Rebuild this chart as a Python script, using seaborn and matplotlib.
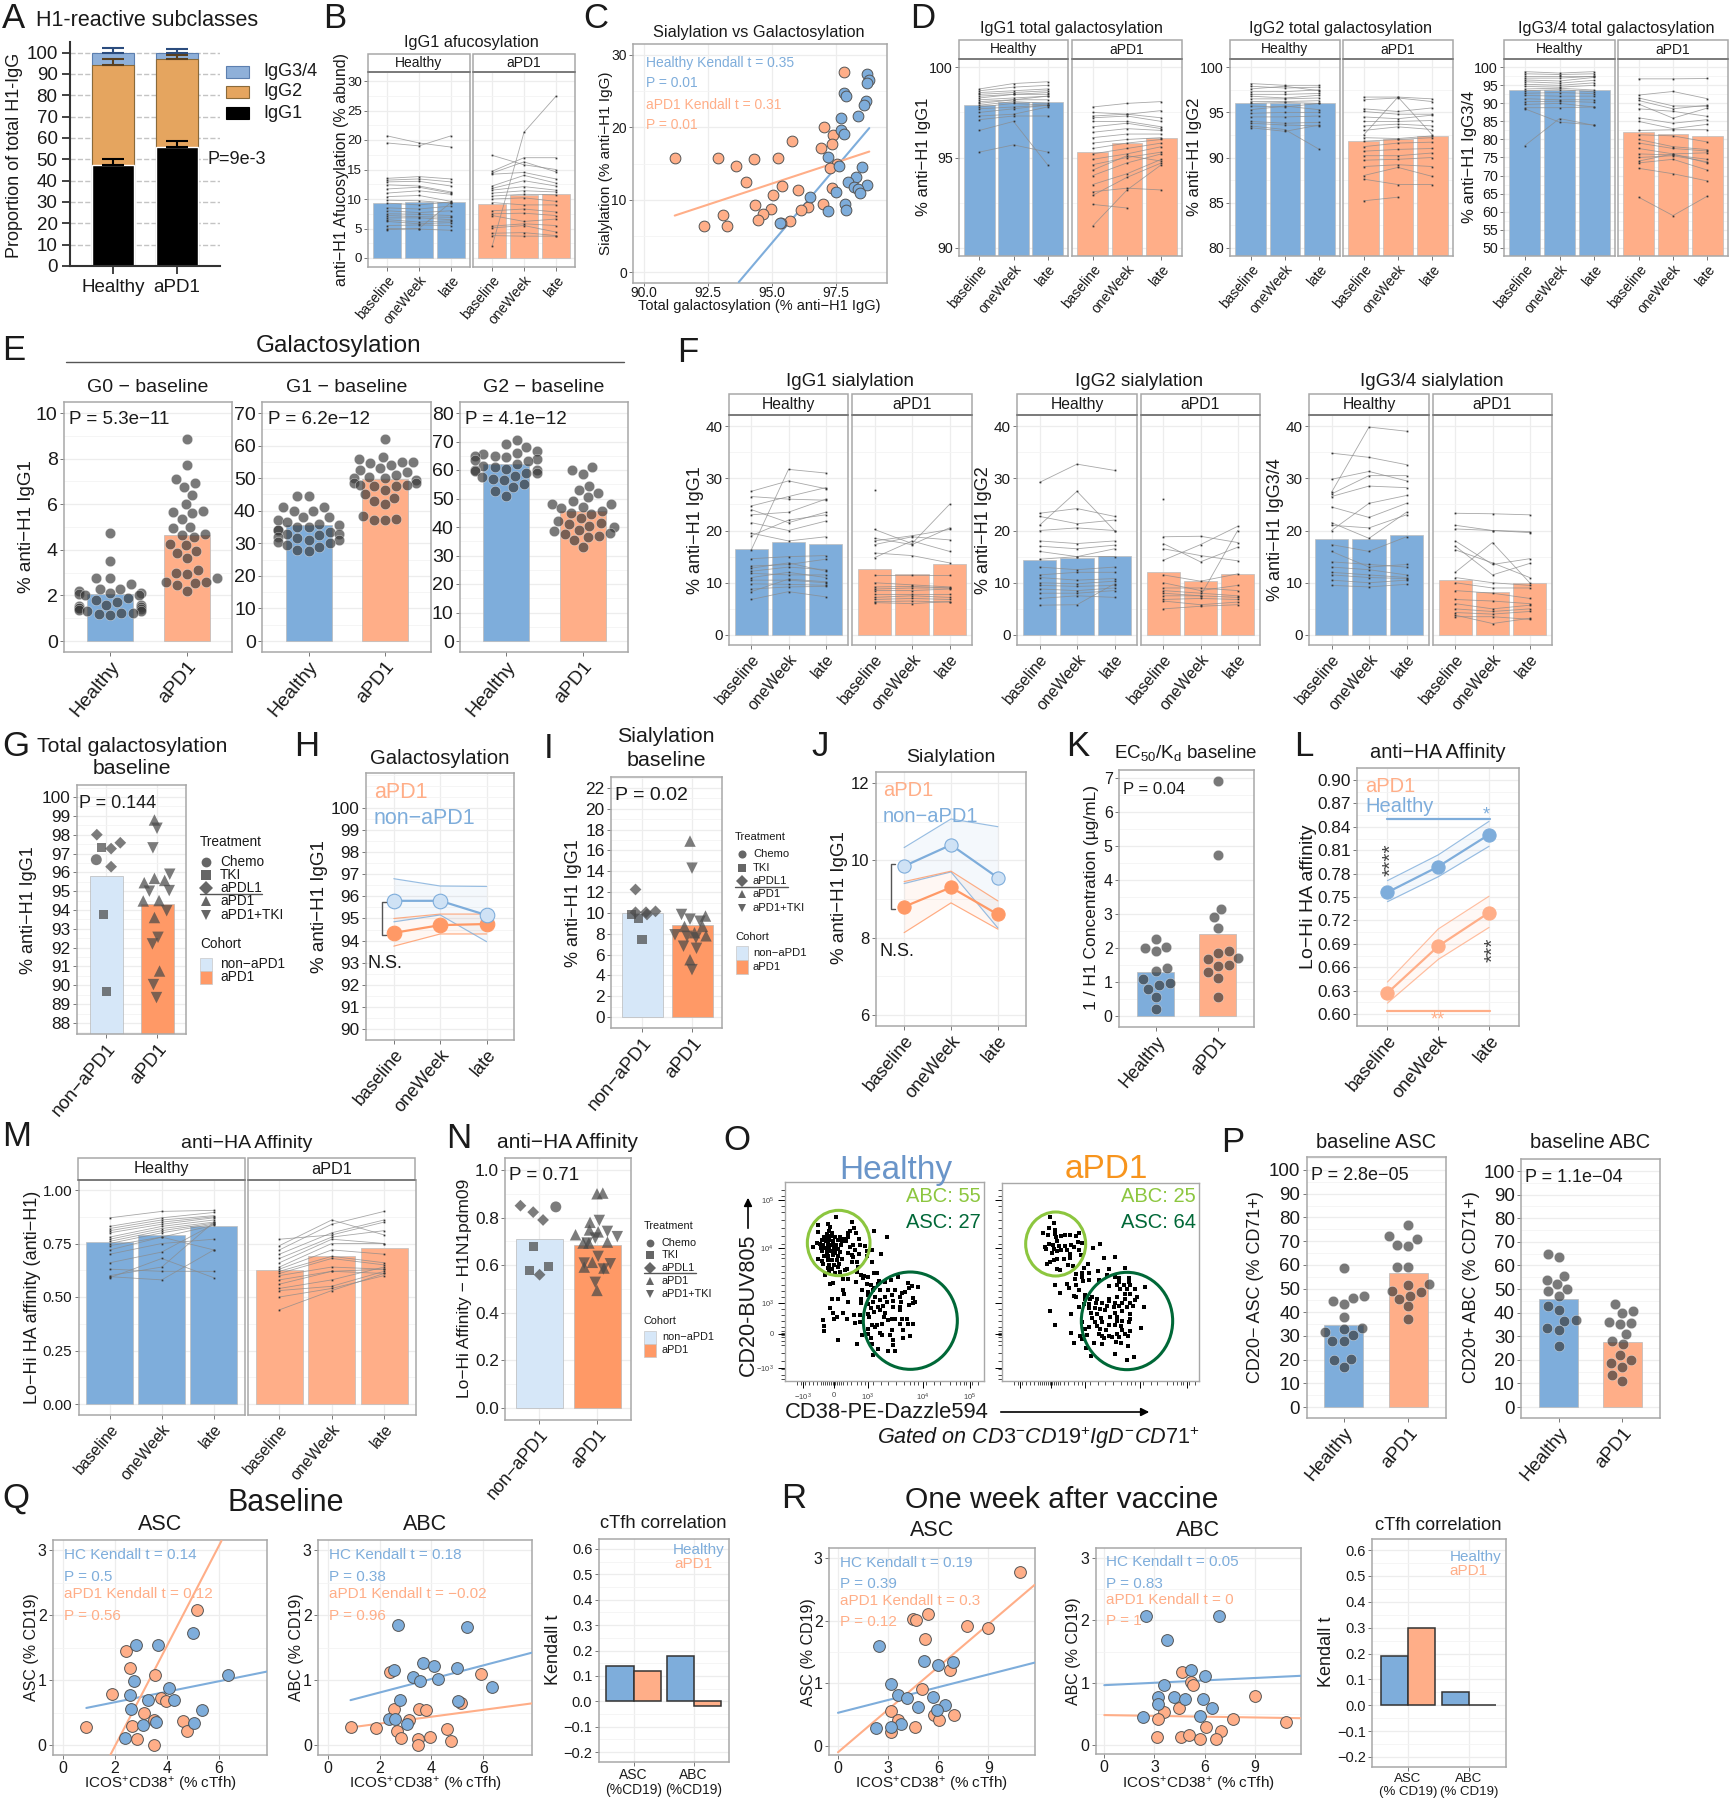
import warnings
import numpy as np
import matplotlib
matplotlib.use("Agg")
import matplotlib.pyplot as plt
from matplotlib.patches import Ellipse, Rectangle
from matplotlib.ticker import AutoMinorLocator
from matplotlib.lines import Line2D
import seaborn as sns

warnings.filterwarnings("ignore")
sns.set_theme(style="whitegrid")
plt.rcParams['font.family'] = ['Liberation Sans', 'DejaVu Sans']
plt.rcParams['mathtext.fontset'] = 'custom'
plt.rcParams['mathtext.rm'] = 'Liberation Sans'
plt.rcParams['mathtext.it'] = 'Liberation Sans:italic'
plt.rcParams['mathtext.default'] = 'regular'

n = np.nan
BLUE, ORANGE = '#7EADDB', '#FFAE88'
PALE, DEEP = '#D6E7F8', '#FF9966'
TIMES = ['baseline', 'oneWeek', 'late']
HA = ['Healthy', 'aPD1']
NA = ['non\u2212aPD1', 'aPD1']

# ---------- A
A_cats = HA
A_igg1 = [47.5, 56.0]
A_igg2 = [46.5, 41.0]
A_igg34 = [6.0, 3.0]
A_err1 = [2.5, 2.5]
A_err2 = [3.0, 2.0]
A_err34 = [2.0, 1.5]
# ---------- B
B_hc = [[20.7,19.5,18.8],[19.5,19.0,20.7],[13.5,13.8,13.4],[13.2,13.4,12.9],[12.9,13.0,12.2],[12.4,12.2,11.2],
        [11.7,12.0,11.0],[11.0,11.4,10.8],[10.4,10.6,9.6],[9.8,9.7,9.3],[9.3,9.0,9.5],[8.5,8.3,8.8],[8.0,7.7,8.0],
        [7.5,7.4,7.2],[7.2,7.0,6.9],[6.8,6.8,6.5],[6.5,6.1,6.3],[6.2,5.8,6.0],[5.5,5.6,5.5],[5.0,4.9,4.7],[4.8,5.0,9.4]]
B_pd = [[17.4,15.8,15.0],[14.7,17.0,17.0],[14.4,16.3,14.6],[14.2,14.5,13.4],[12.2,14.0,12.7],[11.8,13.1,12.2],
        [11.5,12.1,11.5],[11.0,11.4,11.2],[10.5,10.8,10.7],[10.0,10.2,9.6],[9.4,9.0,9.0],[8.0,8.3,7.8],[7.5,7.6,7.2],
        [7.2,6.2,6.6],[5.4,5.8,5.5],[5.1,5.5,4.4],[4.2,4.3,3.8],[3.8,3.7,3.7],[2.0,21.3,27.4]]
B_bar_hc, B_bar_pd = [9.4,9.5,9.5], [9.1,10.7,10.8]
# ---------- C
C_hc_x = [98.7,98.8,98.7,97.8,97.9,98.66,98.6,98.35,97.7,97.7,97.8,97.2,97.6,98.5,98.3,97.95,98.2,98.7,98.35,98.45,97.5,96.5,97.85,97.9,97.2,95.3]
C_hc_y = [27.4,26.5,26.1,24.7,24.3,23.7,23.1,21.6,21.3,19.6,19.05,15.9,14.7,14.5,13.1,12.5,11.8,12.05,11.45,10.9,11.05,10.35,9.4,8.6,8.4,6.75]
C_pd_x = [97.8,97.05,97.4,95.8,97.35,96.9,91.2,92.9,94.3,95.25,93.6,97.55,97.25,94.0,95.4,97.35,96.0,95.05,94.35,97.0,96.4,96.15,94.97,94.65,93.07,94.45,95.7,95.35,92.33,93.25]
C_pd_y = [27.65,20.1,18.95,18.1,17.7,17.1,15.75,15.75,15.6,15.7,14.6,14.95,14.35,12.4,11.9,11.65,11.3,10.7,9.3,9.4,9.0,8.6,8.7,8.05,7.9,7.2,7.1,6.75,6.3,6.3]
C_fit_hc_x, C_fit_hc_y = [93.7,98.8], [-1.4,19.9]
C_fit_pd_x, C_fit_pd_y = [91.2,98.8], [7.8,16.65]
# ---------- D
D1_hc = [[98.8,99.1,99.2],[98.7,98.9,99.0],[98.6,98.7,98.8],[98.5,98.6,98.7],[98.4,98.5,98.6],[98.3,98.5,98.5],[98.2,98.3,98.4],
         [98.1,98.2,98.4],[98.0,98.2,98.2],[97.9,98.1,98.0],[97.8,98.0,97.9],[97.7,97.8,97.9],[97.5,97.7,97.9],[97.3,97.4,97.8],
         [97.1,97.3,97.3],[96.5,97.0,94.6],[95.3,95.7,95.3]]
D1_pd = [[97.8,98.0,98.1],[97.5,97.4,97.6],[97.3,97.4,97.2],[97.2,97.3,97.0],[97.0,97.0,96.7],[96.7,96.9,96.6],[96.4,96.6,96.5],
         [96.1,96.3,96.3],[95.8,96.0,96.1],[95.5,95.8,96.0],[95.2,95.5,95.8],[94.9,95.2,95.6],[94.6,95.0,95.3],[94.3,95.1,94.8],
         [94.0,94.7,95.2],[93.5,94.1,94.9],[93.1,93.3,93.2],[92.9,93.9,94.7],[92.4,92.2,n],[91.2,93.2,94.6]]
D1_bar_hc, D1_bar_pd = [97.9,98.05,98.05], [95.3,95.8,96.1]
D2_hc = [[98.2,98.0,98.0],[97.9,97.7,97.8],[97.6,97.9,97.4],[97.3,97.3,97.5],[97.0,97.0,97.1],[96.8,96.6,96.9],[96.5,96.5,96.6],
         [96.2,96.2,96.3],[96.0,96.1,96.0],[95.7,95.6,96.0],[95.3,95.7,95.3],[94.9,95.0,95.0],[94.5,94.5,94.6],[94.0,93.8,93.9],
         [93.8,93.6,93.5],[93.5,93.1,90.9],[93.3,92.9,93.6]]
D2_pd = [[96.7,96.7,96.5],[96.4,96.6,96.2],[95.4,95.1,95.5],[95.1,94.8,94.8],[94.5,94.3,94.7],[94.0,94.0,94.1],[93.5,93.7,93.5],
         [93.0,93.4,93.1],[92.5,96.7,92.5],[92.2,92.1,92.4],[91.8,92.0,92.2],[91.2,91.6,91.7],[90.7,90.9,91.0],[90.2,90.2,90.5],
         [89.7,89.8,90.0],[89.0,89.2,89.0],[88.0,88.9,87.9],[87.6,87.0,87.0],[85.2,85.6,n]]
D2_bar_hc, D2_bar_pd = [96.0,96.0,96.0], [91.8,92.0,92.4]
D3_hc = [[98.8,98.4,98.8],[98.2,98.0,98.2],[97.6,97.6,97.6],[97.0,97.0,97.5],[96.5,96.2,97.2],[96.0,95.6,96.4],[95.3,95.0,95.7],
         [94.7,94.5,95.0],[94.0,94.2,93.7],[93.5,93.8,93.2],[92.8,93.0,92.7],[92.2,92.0,92.0],[91.3,91.0,91.0],[90.5,90.6,90.3],
         [89.7,90.0,89.0],[88.8,88.8,89.0],[88.5,84.8,84.0],[78.3,85.8,83.9]]
D3_pd = [[96.8,96.8,96.9],[92.3,93.3,91.3],[91.5,89.3,89.2],[90.8,88.5,89.5],[89.8,85.9,88.7],[88.5,87.8,86.4],[86.0,84.5,85.5],
         [85.0,83.0,84.2],[82.5,82.7,82.7],[81.3,81.0,79.3],[80.0,78.0,77.2],[79.0,77.5,76.8],[77.5,76.0,76.3],[76.0,75.7,74.5],
         [75.0,75.5,73.8],[74.0,76.0,73.5],[73.5,74.5,71.5],[72.0,70.5,68.5],[64.0,58.9,64.3]]
D3_bar_hc, D3_bar_pd = [93.6,93.7,93.7], [82.2,81.4,81.0]
# ---------- E
E1_hc = [4.75,3.5,2.75,2.75,2.5,2.3,2.3,2.2,2.1,2.1,2.05,2.0,2.0,1.9,1.8,1.7,1.6,1.6,1.55,1.5,1.45,1.45,1.4,1.35,1.3,1.3,1.25,1.25,1.2,1.15]
E1_pd = [8.85,7.7,7.1,6.95,6.75,6.4,6.0,5.65,5.6,5.7,5.35,5.0,4.95,4.7,4.65,4.55,4.25,4.2,3.95,3.85,3.65,3.1,3.0,2.95,2.75,2.6,2.6,2.55,2.45,2.2]
E2_hc = [44.5,44.5,41,41,40,40,38,38,37,36.5,36,35.5,35,35,34,34,33.5,33,33,32.5,32,31.5,31,31,30.5,30,29.5,29,28,27.5]
E2_pd = [62,56.5,56,55,55,54.5,54,53,52.5,52,51,50.5,50,50,49.5,48.5,48.5,48,48,47.5,47.5,46.5,45,44,43,42,38.5,37.5,37,37]
E3_hc = [70.5,69,68,66.5,66,65.5,65,65,64.5,64,63.5,63,62,61.5,61,60.5,60,60,59.5,59,59,58,57.5,57,56.5,55,54,52.5,51]
E3_pd = [61,60,58.5,54.5,53,52,50.5,49,48,48,47,46.5,45.5,45,44.5,43,42,41.5,41,40.5,40,39,38.5,38,37.5,37,36.5,35.5,33]
E1_bar, E2_bar, E3_bar = [2.05,4.65], [35.7,49.7], [62.0,45.5]
# ---------- F
F1_hc = [[27.5,29.5,28.0],[26.5,26.0,25.8],[24.7,26.5,28.2],[24.0,21.5,23.5],[23.0,23.5,26.0],[21.5,20.0,21.8],[19.5,18.0,18.8],
         [19.0,22.0,23.0],[16.3,31.7,31.0],[14.6,15.0,15.2],[13.2,13.5,14.5],[12.8,13.8,12.2],[12.2,13.0,12.5],[11.8,11.5,11.5],
         [11.0,12.0,11.0],[10.5,10.5,10.0],[9.8,9.7,9.5],[8.8,9.2,9.3],[8.3,10.7,10.2],[6.8,8.3,7.3]]
F1_pd = [[27.8,n,n],[20.2,17.5,25.0],[18.5,17.3,20.5],[18.0,19.0,20.2],[17.3,18.8,18.2],[15.7,15.2,13.8],[14.8,18.0,16.0],[11.5,11.5,11.5],
         [10.0,9.6,9.2],[9.2,9.3,9.0],[8.8,9.0,9.0],[8.5,8.5,8.8],[7.8,7.8,7.8],[7.2,7.5,7.2],[6.8,7.0,6.8],[6.4,6.5,6.3],[6.2,6.0,6.4]]
F1_bar_hc, F1_bar_pd = [16.4,17.8,17.4], [12.6,11.6,13.6]
F2_hc = [[29.2,32.7,31.5],[23.3,24.2,22.7],[22.7,21.3,22.0],[21.0,27.5,20.0],[20.0,20.5,20.0],[18.0,17.5,18.0],[17.0,16.5,17.2],
         [16.0,15.0,16.5],[14.5,15.0,15.0],[13.0,12.5,13.0],[11.5,12.0,12.0],[11.0,10.5,10.8],[10.0,9.8,10.3],[9.5,9.3,9.5],
         [8.8,8.5,9.0],[8.0,8.0,8.5],[7.0,7.5,7.2],[5.7,5.8,9.8]]
F2_pd = [[26.1,n,n],[18.8,18.9,17.7],[17.5,14.0,16.8],[16.5,15.2,14.2],[14.3,17.3,20.8],[11.5,10.3,11.7],[10.0,8.5,9.5],[9.0,9.0,8.5],
         [8.5,8.0,7.5],[8.0,7.5,20.0],[7.5,7.5,7.2],[6.8,7.0,6.8],[6.5,5.8,6.3],[5.0,5.5,5.8]]
F2_bar_hc, F2_bar_pd = [14.4,14.7,15.1], [12.0,10.4,11.7]
F3_hc = [[34.8,34.0,32.6],[29.8,31.3,29.5],[27.0,30.5,30.5],[26.5,28.5,28.2],[24.5,22.5,25.2],[21.5,18.5,23.5],[21.0,20.5,23.0],
         [20.0,25.2,26.7],[17.3,16.0,18.8],[16.0,13.0,13.5],[14.0,13.5,13.0],[13.0,12.5,11.5],[12.0,11.5,11.0],[11.5,11.0,10.8],
         [10.5,10.0,10.5],[9.5,9.2,9.7],[27.3,39.8,39.0]]
F3_pd = [[23.3,23.2,23.0],[21.0,20.0,19.8],[20.3,20.0,19.6],[18.0,13.5,14.6],[17.0,11.5,13.7],[16.3,13.8,11.0],[12.0,17.7,10.0],
         [11.0,10.0,9.5],[10.0,9.0,9.0],[8.5,8.0,7.0],[6.8,6.5,6.0],[6.0,5.0,5.7],[5.0,4.5,5.0],[4.3,4.0,4.5],[3.8,2.2,3.2],[3.5,3.5,3.0]]
F3_bar_hc, F3_bar_pd = [18.4,18.4,19.1], [10.6,8.2,9.9]
# ---------- G
G_non_v = [98.0,97.57,97.26,96.3,97.3,93.75,89.66,96.67]
G_non_j = [-.18,.28,.1,.1,-.09,-.05,.01,-.19]
G_non_t = ['aPDL1']*4 + ['TKI']*3 + ['Chemo']
G_pd_v = [98.78,95.68,95.45,95.57,94.48,94.5,93.6,90.76,98.34,97.3,95.9,95.0,95.03,93.96,92.55,92.2,90.04,89.35]
G_pd_j = [-.05,-.05,-.25,.15,-.27,.04,-.05,.05,0,-.08,.25,-.15,.24,.19,.02,-.09,-.07,-.01]
G_pd_t = ['aPD1']*8 + ['aPD1+TKI']*10
G_bar = [95.8,94.3]
# ---------- H, J, L
H_blue = [95.8,95.8,95.15]; H_blue_u = [96.8,96.47,96.45]; H_blue_l = [94.85,95.16,93.95]
H_or = [94.35,94.7,94.75]; H_or_u = [95.0,95.2,95.2]; H_or_l = [93.75,94.3,94.3]
J_blue = [9.85,10.4,9.55]; J_blue_u = [10.33,11.07,10.87]; J_blue_l = [9.4,9.7,8.25]
J_or = [8.8,9.3,8.6]; J_or_u = [9.45,9.72,8.95]; J_or_l = [8.13,8.9,8.22]
L_blue = [.756,.789,.83]; L_blue_u = [.771,.804,.847]; L_blue_l = [.744,.776,.815]
L_or = [.627,.687,.73]; L_or_u = [.641,.709,.751]; L_or_l = [.614,.67,.711]
# ---------- I
I_non_v = [12.25,10.06,10.06,10.15,9.85,9.85,9.5,7.44]
I_non_j = [-.13,-.13,.08,.27,.1,-.21,-.07,0]
I_non_t = ['aPDL1']*5 + ['TKI']*3
I_pd_v = [16.9,9.7,8.7,8.7,8.1,7.8,5.5,14.3,9.85,9.4,9.2,7.9,7.75,7.6,6.8,6.6,4.55]
I_pd_j = [-.04,.27,-.15,.21,.05,.28,-.04,0,-.21,-.04,.16,-.34,-.1,.08,-.17,.09,0]
I_pd_t = ['aPD1']*7 + ['aPD1+TKI']*10
I_bar = [10.0,8.8]
# ---------- K
K_hc = [2.27,2.0,1.9,2.03,1.4,1.32,1.08,.97,.9,.8,.55,.2]
K_pd = [6.9,4.75,3.15,2.9,2.6,1.85,1.9,1.7,1.67,1.48,1.5,1.3,1.12,.55]
K_bar = [1.3,2.4]
# ---------- M
M_hc = [[.87,.90,.905],[.83,.87,.895],[.82,.86,.88],[.81,.85,.875],[.80,.84,.87],[.78,.83,.86],[.77,.82,.85],[.76,.81,.845],
        [.75,.80,.84],[.74,.78,.835],[.72,.78,.72],[.70,.75,.77],[.66,.71,.84],[.63,.62,.62],[.60,.64,.85],[.595,.58,.72],[.59,.68,.59]]
M_pd = [[.77,.79,.85],[.74,.86,.79],[.72,.84,.90],[.70,.80,.86],[.68,.78,.81],[.66,.77,.75],[.64,.75,.75],[.63,.72,.70],[.62,.69,.66],
        [.61,.68,.65],[.60,.64,.63],[.58,.62,.61],[.56,.62,.63],[.54,.58,.64],[.53,.55,.62],[.50,.54,.60],[.44,.53,.61]]
M_bar_hc, M_bar_pd = [.755,.79,.83], [.625,.69,.73]
# ---------- N
N_non_v = [.85,.823,.79,.56,.845,.68,.595,.577]
N_non_j = [-.32,-.1,.07,.01,.29,-.1,.16,-.16]
N_non_t = ['aPDL1']*4 + ['Chemo'] + ['TKI']*3
N_pd_v = [.9,.903,.728,.78,.748,.74,.697,.693,.693,.612,.592,.494,.588,.788,.742,.72,.714,.693,.637,.606,.609,.584,.528]
N_pd_j = [0,.1,-.37,-.12,-.13,.02,.18,-.14,-.24,-.08,-.22,0,.12,.04,.18,.35,-.03,-.17,.02,.23,-.22,.11,-.03]
N_pd_t = ['aPD1']*13 + ['aPD1+TKI']*10
N_bar = [.71,.685]
# ---------- O (flow events on a 0-600 display scale of each plot window)
O_hc = [(154,106),(128,126),(100,130),(136,135),(200,120),(196,146),(208,138),(266,148),(305,164),(98,150),(132,148),(140,152),(125,155),(190,152),(213,153),
        (116,165),(126,165),(138,162),(150,165),(165,165),(178,170),(190,165),(222,172),(112,175),(122,178),(132,175),(145,178),(158,175),(170,178),(183,178),
        (95,182),(105,185),(115,188),(128,187),(140,190),(152,188),(168,190),(205,190),(225,188),(83,195),(108,197),(120,198),(133,198),(148,200),(160,200),
        (195,195),(240,193),(112,208),(125,210),(138,208),(150,212),(165,210),(190,212),(210,205),(247,207),(262,205),(118,222),(130,222),(145,220),(158,222),
        (200,218),(222,215),(287,216),(98,230),(112,238),(128,235),(142,235),(155,235),(170,230),(205,225),(215,240),(245,222),(260,240),(115,245),(132,248),
        (148,248),(162,245),(200,240),(128,258),(142,260),(158,255),(220,255),(132,270),(150,272),(165,270),(180,265),(187,262),(120,278),(215,270),(228,278),
        (238,282),(268,274),(275,274),(233,288),(248,285),(175,292),(190,290),(283,296),(135,305),(145,304),(212,300),(245,305),(175,325),(178,335),(230,325),
        (258,310),(268,318),(280,305),(300,300),(318,295),(338,285),(368,302),(372,318),(382,312),(400,316),(250,330),(265,325),(285,325),(310,325),(330,325),
        (350,332),(360,330),(140,352),(160,350),(188,360),(228,350),(250,340),(270,345),(300,345),(320,340),(345,345),(385,348),(228,362),(250,365),(265,360),
        (285,355),(305,360),(325,358),(348,360),(385,362),(390,360),(135,378),(258,378),(280,375),(295,372),(325,375),(345,375),(372,368),(145,392),(175,392),
        (185,410),(208,400),(225,400),(250,395),(268,390),(285,385),(300,392),(345,385),(155,405),(148,410),(225,420),(252,405),(298,405),(320,410),(350,412),
        (365,412),(115,415),(210,422),(260,430),(275,428),(290,425),(310,415),(330,412),(345,425),(368,425),(385,425),(118,432),(250,440),(270,435),(355,443),
        (116,447),(322,445),(250,455),(285,452),(230,460),(292,458),(315,460),(258,468),(375,463),(355,468),(160,474),(325,475),(216,486),(260,485),(325,490),
        (278,500),(308,508),(330,508),(265,519)]
O_pd = [(144,106),(155,122),(142,138),(158,145),(123,152),(138,158),(158,155),(162,165),(178,162),(188,158),(205,158),(222,162),(232,153),(165,178),(140,185),
        (130,195),(152,190),(170,192),(190,192),(208,188),(228,180),(240,182),(133,200),(155,200),(178,205),(195,205),(215,195),(230,205),(150,212),(165,208),
        (205,215),(238,220),(165,230),(185,230),(205,228),(155,235),(145,240),(135,246),(198,250),(212,252),(272,198),(293,185),(305,228),(340,226),(165,260),
        (175,265),(257,247),(245,258),(322,262),(222,275),(240,272),(260,272),(288,268),(370,258),(220,290),(240,285),(262,295),(315,280),(340,285),(350,288),
        (382,288),(160,310),(195,305),(242,298),(290,295),(350,300),(380,300),(200,318),(222,308),(320,312),(345,310),(365,310),(385,310),(428,316),(174,332),
        (232,325),(355,320),(375,322),(398,320),(215,342),(222,345),(248,340),(270,345),(370,335),(385,335),(250,352),(265,350),(285,352),(320,350),(345,345),
        (370,350),(405,345),(245,365),(262,365),(282,362),(300,362),(322,358),(340,362),(360,362),(385,362),(400,355),(230,375),(260,378),(280,378),(295,380),
        (315,372),(335,375),(352,372),(375,375),(392,372),(425,375),(145,388),(206,395),(268,392),(285,395),(310,385),(340,392),(360,388),(385,395),(270,408),
        (298,408),(325,405),(345,405),(385,412),(240,420),(280,420),(300,420),(345,418),(360,418),(160,428),(262,435),(285,432),(320,430),(340,430),(358,432),
        (380,420),(418,438),(250,440),(295,440),(312,445),(360,445),(385,448),(208,453),(290,455),(300,462),(320,462),(345,455),(370,455),(235,463),(255,460),
        (305,468),(330,465),(350,465),(240,472),(378,462),(215,483),(275,483),(300,486),(343,480),(358,482),(252,497),(378,492),(266,521),(338,515),(395,525),(375,533)]
O_hc_x, O_hc_y = zip(*O_hc)
O_pd_x, O_pd_y = zip(*O_pd)
O_ticks_x = [53,146,248,414,554]
O_ticks_y = [55,198,362,456,559]
O_lab_x = ['$-10^3$','0','$10^3$','$10^4$','$10^5$']
O_lab_y = ['$10^5$','$10^4$','$10^3$','0','$-10^3$']
O_minor_x = [36,48,60,72,84,96,107,113,119,125,131,137,143,149,155,161,167,173,185,197,215,227,239,263,287,310,334,358,376,388,400,424,448,466,496,513,525,537,543,561,579]
O_minor_y = [591,579,561,537,513,489,477,465,459,453,447,435,418,400,382,346,328,310,287,269,251,227,215,185,161,137,113,90,72,42,24]
# ---------- P
P1_hc = [58.8,47,44.7,46,43.3,38,33,33.5,31.6,30.5,28,28,19.7,20.4,16.9]
P1_pd = [76.8,72,71,68.5,68,59,59,52,51.5,49,48.5,47,45.5,42.5,37]
P2_hc = [65,63.5,55.5,54,52,50,49,47,43,41,37,36.5,33.5,32.5,26]
P2_pd = [43.5,40.5,40,35.5,35,36,31,28,26.5,22,20,18.5,17,13.5,11]
P1_bar, P2_bar = [34.5,56.5], [45.8,27.5]
# ---------- Q
Q1_hc_x = [2.82,3.68,5.0,6.36,2.73,4.09,2.58,3.29,4.28,2.62,5.36,3.59,3.07,5.05,2.39]
Q1_hc_y = [1.54,1.54,1.73,1.08,.99,.87,.77,.7,.69,.55,.54,.35,.31,.34,.11]
Q1_pd_x = [5.16,2.43,2.58,3.53,1.89,3.79,3.98,3.12,3.5,4.62,2.67,.9,4.79,2.86,3.5]
Q1_pd_y = [2.07,1.45,1.19,1.07,.79,.73,.68,.5,.39,.37,.29,.27,.22,.1,0]
Q1_fit_hc_x, Q1_fit_hc_y = [.9,7.87], [.57,1.13]
Q1_fit_pd_x, Q1_fit_pd_y = [1.83,6.11], [-.15,3.14]
Q2_hc_x = [2.71,5.36,2.54,3.66,4.09,4.99,3.29,4.26,3.57,6.34,2.8,5.03,2.36,2.6,3.07]
Q2_hc_y = [1.85,1.81,1.16,1.26,1.21,1.18,1.05,1.02,.98,.9,.69,.67,.4,.4,.33]
Q2_pd_x = [2.41,5.91,5.14,2.56,3.53,3.79,3.12,.88,1.85,4.6,2.67,2.84,3.94,3.48,4.77,3.48]
Q2_pd_y = [1.12,1.09,.65,.56,.56,.54,.39,.27,.26,.24,.22,.11,.12,.1,.06,0]
Q2_fit_hc_x, Q2_fit_hc_y = [.88,7.87], [.69,1.42]
Q2_fit_pd_x, Q2_fit_pd_y = [.88,7.87], [.27,.64]
Q3_hc, Q3_pd = [.14,.18], [.12,-.02]
# ---------- R
R1_hc_x = [2.47,5.14,6.01,6.88,3.19,3.6,4.12,5.69,4.79,6.39,5.92,3.75,3.19,2.29]
R1_hc_y = [1.6,1.36,1.3,1.34,.99,.82,.76,.78,.63,.65,.58,.35,.3,.28]
R1_pd_x = [10.89,5.37,4.47,4.65,7.72,8.97,5.2,6.68,5.05,3.16,5.72,6.97,3.57,6.04,4.62,3.16]
R1_pd_y = [2.78,2.1,2.02,2.01,1.92,1.88,1.7,1.22,.91,.56,.5,.49,.42,.42,.3,.23]
R1_fit_hc_x, R1_fit_hc_y = [0,11.76], [.53,1.33]
R1_fit_pd_x, R1_fit_pd_y = [0,11.76], [-.1,2.57]
R2_hc_x = [2.5,6.88,3.75,5.17,6.01,3.6,3.22,4.15,4.82,5.92,3.19,6.45,2.32,5.72]
R2_hc_y = [2.07,2.07,1.68,1.21,1.1,.96,.77,.77,.74,.74,.65,.59,.45,.47]
R2_pd_x = [4.65,5.2,5.34,9.0,4.5,3.6,3.19,7.72,10.89,6.07,6.97,3.16,4.62,5.08,5.72,6.71]
R2_pd_y = [1.17,1.01,.97,.78,.6,.53,.42,.41,.37,.29,.22,.13,.13,.16,.1,.09]
R2_fit_hc_x, R2_fit_hc_y = [0,11.76], [.96,1.11]
R2_fit_pd_x, R2_fit_pd_y = [0,11.76], [.48,.43]
R3_hc, R3_pd = [.19,.05], [.30,0]

# =================== helpers
W, H = 1729, 1800
fig = plt.figure(figsize=(W/100, H/100), dpi=100, facecolor='white')
ov = fig.add_axes([0, 0, 1, 1], zorder=20)
ov.set_xlim(0, W); ov.set_ylim(H, 0); ov.axis('off'); ov.patch.set_alpha(0)
GR = '#A8A8A8'
TXT = '#1A1A1A'

def T(x, y, s, size=12, ha='left', color=TXT, rot=0, **kw):
    ov.text(x, y, s, fontsize=size, ha=ha, va='center', color=color, rotation=rot,
            rotation_mode='anchor' if rot else 'default', **kw)

def YL(x, y, s, size=12.5):
    T(x, y, s, size=size, ha='center', rot=90)

def axpx(l, t, r, b):
    ax = fig.add_axes([l/W, 1-b/H, (r-l)/W, (b-t)/H])
    ax.set_axisbelow(True)
    ax.set_xlabel(''); ax.set_ylabel('')
    return ax

def frame(ax, ticks, p1, v1, p2, v2, t, b, tsize=11, fmt=None, minor=True):
    k = (p2-p1)/(v1-v2)
    ax.set_ylim(v2-(b-p2)/k, v1+(p1-t)/k)
    ax.set_yticks(ticks)
    if fmt: ax.set_yticklabels([fmt % v for v in ticks])
    ax.grid(True, axis='both', which='major', color='#EDEDED', lw=0.9)
    if minor:
        ax.yaxis.set_minor_locator(AutoMinorLocator(2))
        ax.grid(True, axis='y', which='minor', color='#F4F4F4', lw=0.6)
    ax.tick_params(axis='y', which='minor', length=0)
    ax.tick_params(axis='both', which='major', length=3, width=0.7, color='#777777', pad=1.5,
                   labelcolor=TXT, labelsize=tsize, left=True, bottom=True)
    for s in ax.spines.values():
        s.set_visible(True); s.set_color(GR); s.set_linewidth(1.1)
    ax.set_xlabel(''); ax.set_ylabel('')

def rot_x(ax, labels, size=11, rot=50):
    ax.set_xticks(range(len(labels)))
    ax.set_xticklabels(labels, rotation=rot, ha='right', rotation_mode='anchor', fontsize=size, color=TXT)

def two_x(ax, l, r, c1, c2):
    u = c2-c1
    ax.set_xlim((l-c1)/u, 1+(r-c2)/u)
    return u

def bars(ax, cats, vals, cols, w):
    sns.barplot(x=cats, y=vals, hue=cats, palette=dict(zip(cats, cols)), order=cats, width=w, saturation=1,
                legend=False, ax=ax, edgecolor='#B9B9B9', linewidth=0.5)

def facet(boxes, st, sb, b, yp, ticks, hc, pd_, bh, bp, tsize=10, strip=10, lab=10, fmt=None, lw=.6, ms=1.25):
    (p1, v1, p2, v2) = yp
    for i, ((l, r), rows, bv, c, name) in enumerate(zip(boxes, (hc, pd_), (bh, bp), (BLUE, ORANGE), HA)):
        ax = axpx(l, sb, r, b)
        sns.barplot(x=TIMES, y=bv, color=c, width=.9, saturation=1, ax=ax, edgecolor='#BDBDBD', linewidth=.5)
        frame(ax, ticks, p1, v1, p2, v2, sb, b, tsize=tsize, fmt=fmt)
        for row in rows:
            ax.plot(range(3), row, color='#8A8A8A', lw=lw, alpha=.75, zorder=4)
            ax.plot(range(3), row, ls='none', marker='s', ms=ms, color='#333333', mew=0, zorder=5)
        ax.set_xlim(-.6, 2.6)
        rot_x(ax, TIMES, size=lab)
        ax.set_xlabel(''); ax.set_ylabel('')
        if i:
            ax.tick_params(axis='y', left=False, labelleft=False)
        ov.add_patch(Rectangle((l, st), r-l, sb-st, fc='white', ec=GR, lw=1.1))
        ov.plot([l, r], [sb, sb], color='#777777', lw=1.3)
        T((l+r)/2, (st+sb)/2, name, size=strip, ha='center')

def swarm(ax, cats, a, b, size=7.5):
    sns.swarmplot(x=[cats[0]]*len(a)+[cats[1]]*len(b), y=list(a)+list(b), order=cats, color='#3A3A3A', alpha=.68,
                  size=size, edgecolor='white', linewidth=.35, ax=ax, zorder=5)
    ax.set_xlabel(''); ax.set_ylabel('')

MARK = {'Chemo': 'o', 'TKI': 's', 'aPDL1': 'D', 'aPD1': '^', 'aPD1+TKI': 'v'}
MSIZE = {'Chemo': 62, 'TKI': 42, 'aPDL1': 36, 'aPD1': 68, 'aPD1+TKI': 68}

def shapes(ax, pos, vals, jit, treat):
    sns.scatterplot(x=pos+np.array(jit), y=vals, style=treat, markers=MARK, size=treat, sizes=MSIZE, color='#4A4A4A',
                    alpha=.72, linewidth=0, legend=False, ax=ax, zorder=5)

def treat_legend(xt, xm, xl, ys, under, cy, rows, boxx, boxw, boxh, size=11):
    T(xt, ys[0], 'Treatment', size=size)
    for y, (name, m) in zip(ys[1:], MARK.items()):
        ov.add_line(Line2D([xm], [y], marker=m, color='#666666', ms=size*.72, ls='none', mew=0))
        T(xl, y, name, size=size)
    ov.plot([xt, xl+size*4.3], [under, under], color='#555555', lw=1)
    T(xt, cy, 'Cohort', size=size)
    for y, name, c in zip(rows, ['non\u2212aPD1', 'aPD1'], [PALE, DEEP]):
        ov.add_patch(Rectangle((boxx, y-boxh/2), boxw, boxh, fc=c, ec='#C8C8C8', lw=.5))
        T(xl, y, name, size=size)

def ribbon(ax, mid, up, lo, col, mfc, ms=10.5, alpha=.08):
    xs = [0, 1, 2]
    ax.fill_between(xs, lo, up, color=col, alpha=alpha, lw=0, zorder=2)
    sns.lineplot(x=TIMES, y=up, color=col, lw=.85, alpha=.8, sort=False, ax=ax, zorder=3)
    sns.lineplot(x=TIMES, y=lo, color=col, lw=.85, alpha=.8, sort=False, ax=ax, zorder=3)
    sns.lineplot(x=TIMES, y=mid, color=col, lw=1.6, sort=False, marker='o', markersize=ms, markerfacecolor=mfc,
                 markeredgecolor=col, markeredgewidth=.8, ax=ax, zorder=4)

def scatter2(ax, hx, hy, px, py, fit_h, fit_p, s=62):
    sns.scatterplot(x=px, y=py, color=ORANGE, s=s, edgecolor='#555555', linewidth=.7, legend=False, ax=ax, zorder=4)
    sns.scatterplot(x=hx, y=hy, color=BLUE, s=s, edgecolor='#555555', linewidth=.7, legend=False, ax=ax, zorder=4)
    sns.lineplot(x=fit_h[0], y=fit_h[1], color=BLUE, lw=1.5, ax=ax, zorder=3)
    sns.lineplot(x=fit_p[0], y=fit_p[1], color=ORANGE, lw=1.5, ax=ax, zorder=3)

def xfit(ax, l, r, p1, v1, p2, v2):
    k = (p2-p1)/(v2-v1)
    ax.set_xlim(v1-(p1-l)/k, v2+(r-p2)/k)

def bracket(x, y1, y2, col='#555555'):
    ov.plot([x+4, x, x, x+4], [y1, y1, y2, y2], color=col, lw=1)

# panel letters
for (x, y, s) in [(2,18,'A'),(323,18,'B'),(583,18,'C'),(910,18,'D'),(2,350,'E'),(677,352,'F'),(2,746,'G'),(294,746,'H'),
                  (544,749,'I'),(811,746,'J'),(1066,746,'K'),(1294,746,'L'),(2,1137,'M'),(446,1139,'N'),(723,1141,'O'),
                  (1221,1143,'P'),(2,1498,'Q'),(781,1498,'R')]:
    T(x, y, s, size=25)

# =================== A
ax = axpx(70, 42, 220, 266)
cum3 = np.array(A_igg1)+np.array(A_igg2)+np.array(A_igg34)
cum2 = np.array(A_igg1)+np.array(A_igg2)
sns.barplot(x=A_cats, y=cum3, color='#8FB0D9', width=.656, saturation=1, edgecolor='#5C7FAF', linewidth=.8, ax=ax)
sns.barplot(x=A_cats, y=cum2, color='#E5A55F', width=.656, saturation=1, edgecolor='#8A6A3A', linewidth=.8, ax=ax)
sns.barplot(x=A_cats, y=A_igg1, color='black', width=.656, saturation=1, ax=ax)
for tops, errs, c in [(A_igg1, A_err1, 'black'), (cum2, A_err2, '#5A4020'), (cum3, A_err34, '#2B4C7E')]:
    ax.errorbar([0, 1], tops, yerr=[[0, 0], errs], fmt='none', ecolor=c, elinewidth=1.5, capsize=8, capthick=1.5, zorder=6)
ax.set_xlim(-.67, 1.67); ax.set_ylim(0, 105)
ax.set_yticks(range(0, 101, 10))
ax.grid(False)
ax.grid(True, axis='y', ls='--', color='#C4C4C4', lw=1)
for s in ('top', 'right'):
    ax.spines[s].set_visible(False)
for s in ('left', 'bottom'):
    ax.spines[s].set_color('#333333'); ax.spines[s].set_linewidth(1.5)
ax.tick_params(axis='both', length=6, width=1.3, color='#333333', labelsize=13.5, pad=3, labelcolor=TXT, left=True, bottom=True)
ax.set_ylabel(''); ax.set_xlabel('')
T(36, 20, 'H1-reactive subclasses', size=15.5)
YL(15, 155, 'Proportion of total H1-IgG', size=13)
for y, name, c, e in [(72, 'IgG3/4', '#8FB0D9', '#5C7FAF'), (92, 'IgG2', '#E5A55F', '#8A6A3A'), (113, 'IgG1', 'black', 'black')]:
    ov.add_patch(Rectangle((226, y-6), 23, 12, fc=c, ec=e, lw=.8))
    T(263, y, name, size=13)
T(208, 160, 'P=9e-3', size=13)

# =================== B
facet([(368, 470), (473, 575)], 54, 72, 267, (81, 30, 258, 0), list(range(0, 31, 5)), B_hc, B_pd, B_bar_hc, B_bar_pd,
      tsize=9.5, strip=10, lab=10)
T(471, 42, 'IgG1 afucosylation', size=11.7, ha='center')
YL(342, 169, 'anti\u2212H1 Afucosylation (% abund)', size=11.5)

# =================== C
ax = axpx(633, 44, 887, 283)
scatter2(ax, C_hc_x, C_hc_y, C_pd_x, C_pd_y, (C_fit_hc_x, C_fit_hc_y), (C_fit_pd_x, C_fit_pd_y), s=60)
frame(ax, [0, 10, 20, 30], 55, 30, 272, 0, 44, 283, tsize=10)
xfit(ax, 633, 887, 644, 90, 836, 97.5)
ax.set_xticks([90, 92.5, 95, 97.5]); ax.set_xticklabels(['90.0', '92.5', '95.0', '97.5'], fontsize=10, color=TXT)
ax.tick_params(axis='x', pad=0, length=2)
T(759, 33, 'Sialylation vs Galactosylation', size=11.7, ha='center')
T(759, 306, 'Total galactosylation (% anti\u2212H1 IgG)', size=10.5, ha='center')
YL(606, 163, 'Sialylation (% anti\u2212H1 IgG)', size=11)
for y, s, c in [(63, 'Healthy Kendall t = 0.35', BLUE), (83, 'P = 0.01', BLUE), (105, 'aPD1 Kendall t = 0.31', ORANGE), (125, 'P = 0.01', ORANGE)]:
    T(646, y, s, size=10, color=c)

# =================== D
facet([(959, 1068), (1072, 1182)], 40, 59, 256, (67.3, 100, 247.7, 90), [90, 95, 100], D1_hc, D1_pd, D1_bar_hc, D1_bar_pd, tsize=10.3, strip=10, lab=10)
facet([(1230, 1340), (1343, 1453)], 40, 59, 256, (67.3, 100, 247.7, 80), list(range(80, 101, 5)), D2_hc, D2_pd, D2_bar_hc, D2_bar_pd, tsize=10.3, strip=10, lab=10)
facet([(1504, 1615), (1618, 1728)], 40, 59, 256, (67.3, 100, 247.7, 50), list(range(50, 101, 5)), D3_hc, D3_pd, D3_bar_hc, D3_bar_pd, tsize=10.3, strip=10, lab=10)
T(1071, 28, 'IgG1 total galactosylation', size=11.7, ha='center')
T(1341, 28, 'IgG2 total galactosylation', size=11.7, ha='center')
T(1616, 28, 'IgG3/4 total galactosylation', size=11.7, ha='center')
YL(924, 157, '% anti\u2212H1 IgG1', size=12)
YL(1195, 157, '% anti\u2212H1 IgG2', size=12)
YL(1470, 157, '% anti\u2212H1 IgG3/4', size=12)

# =================== E
T(339, 346, 'Galactosylation', size=17.5, ha='center')
ov.plot([66, 624], [362, 362], color='#555555', lw=1)
for box, cs, ticks, top, a, b_, bar, title, ptxt, px in [
    ((64, 232), (110, 187), list(range(0, 11, 2)), 10, E1_hc, E1_pd, E1_bar, 'G0 \u2212 baseline', 'P = 5.3e\u221211', 69),
    ((262, 431), (308.5, 385), list(range(0, 71, 10)), 70, E2_hc, E2_pd, E2_bar, 'G1 \u2212 baseline', 'P = 6.2e\u221212', 268),
    ((460, 628), (506, 583), list(range(0, 81, 10)), 80, E3_hc, E3_pd, E3_bar, 'G2 \u2212 baseline', 'P = 4.1e\u221212', 465.5)]:
    ax = axpx(box[0], 402, box[1], 652)
    uu = cs[1]-cs[0]
    bars(ax, HA, bar, [BLUE, ORANGE], 46/uu)
    frame(ax, ticks, 413, top, 641, 0, 402, 652, tsize=14)
    swarm(ax, HA, a, b_)
    two_x(ax, box[0], box[1], cs[0], cs[1])
    rot_x(ax, HA, size=14)
    T(sum(box)/2, 387, title, size=14, ha='center')
    T(px, 420, ptxt, size=13.5)
YL(27, 527, '% anti\u2212H1 IgG1', size=13.5)

# =================== F
yF = (426, 40, 635, 0)
facet([(729, 848), (852, 972)], 394, 415, 645, yF, [0, 10, 20, 30, 40], F1_hc, F1_pd, F1_bar_hc, F1_bar_pd, tsize=11, strip=11.3, lab=11.5)
facet([(1017, 1137), (1141, 1260)], 394, 415, 645, yF, [0, 10, 20, 30, 40], F2_hc, F2_pd, F2_bar_hc, F2_bar_pd, tsize=11, strip=11.3, lab=11.5)
facet([(1309, 1429), (1433, 1552)], 394, 415, 645, yF, [0, 10, 20, 30, 40], F3_hc, F3_pd, F3_bar_hc, F3_bar_pd, tsize=11, strip=11.3, lab=11.5)
T(850, 381, 'IgG1 sialylation', size=13.5, ha='center')
T(1139, 381, 'IgG2 sialylation', size=13.5, ha='center')
T(1432, 381, 'IgG3/4 sialylation', size=13.5, ha='center')
YL(696, 530, '% anti\u2212H1 IgG1', size=13)
YL(984, 530, '% anti\u2212H1 IgG2', size=13)
YL(1276, 530, '% anti\u2212H1 IgG3/4', size=13)

# =================== G
ax = axpx(77, 785, 186, 1034)
bars(ax, NA, G_bar, [PALE, DEEP], 33/51)
frame(ax, list(range(88, 101)), 797, 100, 1023, 88, 785, 1034, tsize=12.4)
shapes(ax, 0, G_non_v, G_non_j, G_non_t)
shapes(ax, 1, G_pd_v, G_pd_j, G_pd_t)
two_x(ax, 77, 186, 106, 157)
rot_x(ax, NA, size=13.5)
ax.set_xlabel(''); ax.set_ylabel('')
T(132, 746, 'Total galactosylation', size=15.2, ha='center')
T(132, 769, 'baseline', size=15.2, ha='center')
T(79, 803, 'P = 0.144', size=13)
YL(29, 910, '% anti\u2212H1 IgG1', size=13)
treat_legend(200, 206, 220, [842, 862, 875, 888, 901, 915], 894, 944, [964, 977], 200, 12, 13, size=9.8)

# =================== H
ax = axpx(366, 773, 514, 1040)
frame(ax, list(range(90, 101)), 808, 100, 1029, 90, 773, 1040, tsize=12.4)
ribbon(ax, H_or, H_or_u, H_or_l, '#FF9966', '#FF9966')
ribbon(ax, H_blue, H_blue_u, H_blue_l, BLUE, '#CFE2F5')
ax.set_xlim(-.6, 2.59)
rot_x(ax, TIMES, size=13)
ax.set_xlabel(''); ax.set_ylabel('')
T(440, 758, 'Galactosylation', size=14.7, ha='center')
T(374, 793, 'aPD1', size=15.5, color=ORANGE)
T(374, 819, 'non\u2212aPD1', size=15.5, color=BLUE)
bracket(382, 902, 935)
T(368, 963, 'N.S.', size=13)
YL(320, 907, '% anti\u2212H1 IgG1', size=13.5)

# =================== I
ax = axpx(611, 777, 722, 1028)
bars(ax, NA, I_bar, [PALE, DEEP], 41/50)
frame(ax, list(range(0, 23, 2)), 788, 22, 1017, 0, 777, 1028, tsize=12.4)
shapes(ax, 0, I_non_v, I_non_j, I_non_t)
shapes(ax, 1, I_pd_v, I_pd_j, I_pd_t)
two_x(ax, 611, 722, 642, 692)
rot_x(ax, NA, size=13.5)
ax.set_xlabel(''); ax.set_ylabel('')
T(666, 737, 'Sialylation', size=15.4, ha='center')
T(666, 761, 'baseline', size=15.4, ha='center')
T(615, 795, 'P = 0.02', size=14)
YL(574, 903, '% anti\u2212H1 IgG1', size=13)
treat_legend(735, 742, 753, [837, 854, 868, 881, 894, 908], 887, 937, [953, 967], 736, 12, 14, size=8.1)

# =================== J
ax = axpx(876, 772, 1026, 1026)
frame(ax, [6, 8, 10, 12], 783, 12, 1015, 6, 772, 1026, tsize=12)
ribbon(ax, J_blue, J_blue_u, J_blue_l, BLUE, '#CFE2F5', ms=9.5)
ribbon(ax, J_or, J_or_u, J_or_l, '#FF9966', '#FF9966', ms=9.5)
ax.set_xlim(-.6, 2.6)
rot_x(ax, TIMES, size=13)
ax.set_xlabel(''); ax.set_ylabel('')
T(951, 757, 'Sialylation', size=14, ha='center')
T(883, 790, 'aPD1', size=14.5, color=ORANGE)
T(883, 816, 'non\u2212aPD1', size=14.5, color=BLUE)
bracket(891, 864, 909)
T(880, 952, 'N.S.', size=13)
YL(840, 898, '% anti\u2212H1 IgG1', size=13.5)

# =================== K
ax = axpx(1119, 770, 1254, 1027)
bars(ax, HA, K_bar, [BLUE, ORANGE], 37/62)
frame(ax, list(range(0, 8)), 778, 7, 1016, 0, 770, 1027, tsize=11.5)
swarm(ax, HA, K_hc, K_pd)
two_x(ax, 1119, 1254, 1155.6, 1217.6)
rot_x(ax, HA, size=13)
T(1186, 753, 'EC$_{50}$/K$_{d}$ baseline', size=13.5, ha='center')
T(1123, 789, 'P = 0.04', size=12)
YL(1092, 898, '1 / H1 Concentration (\u00b5g/mL)', size=12.5)

# =================== L
ax = axpx(1357, 768, 1519, 1026)
lt = [.60, .63, .66, .69, .72, .75, .78, .81, .84, .87, .90]
frame(ax, lt, 780, .90, 1014, .60, 768, 1026, tsize=12.4, fmt='%.2f')
ribbon(ax, L_blue, L_blue_u, L_blue_l, BLUE, BLUE, ms=9.5)
ribbon(ax, L_or, L_or_u, L_or_l, ORANGE, ORANGE, ms=9.5)
ax.set_xlim(-.6, 2.59)
rot_x(ax, TIMES, size=13)
ax.set_xlabel(''); ax.set_ylabel('')
T(1438, 753, 'anti\u2212HA Affinity', size=14.5, ha='center')
T(1365, 787, 'aPD1', size=14.5, color=ORANGE)
T(1365, 807, 'Healthy', size=14.5, color=BLUE)
ov.plot([1387, 1490], [819, 819], color=BLUE, lw=1.6)
T(1486, 815, '*', size=13, ha='center', color=BLUE)
ov.plot([1387, 1490], [1011, 1011], color=ORANGE, lw=1.6)
T(1438, 1020, '**', size=13, ha='center', color=ORANGE)
T(1391, 860, '****', size=15, ha='center', color='#444444', rot=90)
T(1493, 950, '***', size=15, ha='center', color='#444444', rot=90)
YL(1309, 897, 'Lo\u2212Hi HA affinity', size=14)

# =================== M
facet([(78.5, 245), (248, 415.5)], 1158, 1180, 1415, (1190, 1.0, 1404, 0), [0, .25, .5, .75, 1.0], M_hc, M_pd, M_bar_hc, M_bar_pd,
      tsize=11, strip=11.7, lab=11.5, fmt='%.2f')
T(246.5, 1143, 'anti\u2212HA Affinity', size=14, ha='center')
YL(33, 1297, 'Lo\u2212Hi HA affinity (anti\u2212H1)', size=13)

# =================== N
ax = axpx(505, 1158, 631, 1420)
bars(ax, NA, N_bar, [PALE, DEEP], 47/58)
frame(ax, [0, .2, .4, .6, .8, 1.0], 1170, 1.0, 1408, 0, 1158, 1420, tsize=12.4, fmt='%.1f')
shapes(ax, 0, N_non_v, N_non_j, N_non_t)
shapes(ax, 1, N_pd_v, N_pd_j, N_pd_t)
two_x(ax, 505, 631, 539, 597)
rot_x(ax, NA, size=13)
ax.set_xlabel(''); ax.set_ylabel('')
T(568, 1142, 'anti\u2212HA Affinity', size=15, ha='center')
T(509, 1176, 'P = 0.71', size=13.5)
YL(465, 1288, 'Lo\u2212Hi Affinity \u2212 H1N1pdm09', size=12.5)
treat_legend(644, 650, 662, [1226, 1243, 1255, 1268, 1281, 1294], 1273, 1321, [1337, 1350], 644, 12, 13, size=7.8)

# =================== O
for box, lims, xs, ys, lab, col, gE, dE, abc, asc, cx in [
    ((785, 1182, 984, 1381), (597, 597, 0), O_hc_x, O_hc_y, True, '#6A95C9', (161, 183, 188, 196), (376, 416, 282, 292), 'ABC: 55', 'ASC: 27', 896),
    ((1002, 1183, 1199, 1381), (591, 597, 3), O_pd_x, O_pd_y, False, '#F7941D', (161, 186, 180, 192), (375, 417, 274, 292), 'ABC: 25', 'ASC: 64', 1106)]:
    ax = axpx(*box)
    sns.scatterplot(x=list(xs), y=list(ys), marker='s', s=9, color='black', linewidth=0, legend=False, ax=ax, zorder=3)
    ax.set_xlim(0, lims[0]); ax.set_ylim(lims[1], lims[2])
    ax.grid(False)
    for s in ax.spines.values():
        s.set_color(GR); s.set_linewidth(1)
    ax.set_xticks(O_ticks_x); ax.set_yticks(O_ticks_y)
    ax.set_xticks(O_minor_x, minor=True); ax.set_yticks(O_minor_y, minor=True)
    ax.tick_params(which='major', length=5, width=.7, color='black', pad=3, labelsize=5.5, labelcolor='#444444', left=True, bottom=True)
    ax.tick_params(which='minor', length=3, width=.5, color='black', left=True, bottom=True)
    if lab:
        ax.set_xticklabels(O_lab_x); ax.set_yticklabels(O_lab_y, rotation=0)
    else:
        ax.set_xticklabels([]); ax.set_yticklabels([])
    ax.add_patch(Ellipse(gE[:2], gE[2], gE[3], fc='none', ec='#8CC63F', lw=2.2, zorder=4))
    ax.add_patch(Ellipse(dE[:2], dE[2], dE[3], fc='none', ec='#006837', lw=2.2, zorder=4))
    T(box[2]-3, 1196, abc, size=14.5, ha='right', color='#8CC63F')
    T(box[2]-3, 1222, asc, size=14.5, ha='right', color='#006837')
    T(cx, 1170, 'Healthy' if lab else 'aPD1', size=24, ha='center', color=col)
YL(748, 1305, 'CD20-BUV805', size=15.5)
ov.annotate('', xy=(748, 1195), xytext=(748, 1231), arrowprops=dict(arrowstyle='-|>', color='black', lw=1.2))
T(785, 1412, 'CD38-PE-Dazzle594', size=15.8)
ov.annotate('', xy=(1152, 1412), xytext=(998, 1412), arrowprops=dict(arrowstyle='-|>', color='black', lw=1.2))
T(1200, 1438, r'$\mathit{Gated\ on\ CD3^{-}CD19^{+}IgD^{-}CD71^{+}}$', size=15.6, ha='right')

# =================== P
for box, cs, a, b_, bar, title, yy, ptxt, px, py, yl, yx, tt in [
    ((1306.5, 1446), (1343.5, 1408), P1_hc, P1_pd, P1_bar, 'baseline ASC', (1157, 1170), 'P = 2.8e\u221205', 1311, 1175, 'CD20\u2212 ASC (% CD71+)', 1256, 1142),
    ((1521, 1660), (1558.6, 1622), P2_hc, P2_pd, P2_bar, 'baseline ABC', (1159, 1171), 'P = 1.1e\u221204', 1525, 1177, 'CD20+ ABC (% CD71+)', 1471.5, 1143)]:
    ax = axpx(box[0], yy[0], box[1], 1418)
    bars(ax, HA, bar, [BLUE, ORANGE], 39/(cs[1]-cs[0]))
    frame(ax, list(range(0, 101, 10)), yy[1], 100, 1407, 0, yy[0], 1418, tsize=13.5)
    swarm(ax, HA, a, b_)
    two_x(ax, box[0], box[1], cs[0], cs[1])
    rot_x(ax, HA, size=13.5)
    T(sum(box)/2, tt, title, size=14.4, ha='center')
    T(px, py, ptxt, size=13)
    YL(yx, 1287, yl, size=13)

# =================== Q, R
ICOS = 'ICOS$^{+}$CD38$^{+}$ (% cTfh)'

def qr(box, xp, yp, xticks, hc, pd_, fits, title, titley, yl, ylx, yly, annx, anny, ann, xlaby):
    ax = axpx(*box)
    scatter2(ax, hc[0], hc[1], pd_[0], pd_[1], fits[0], fits[1], s=72)
    frame(ax, [0, 1, 2, 3], yp[0], 3, yp[1], 0, box[1], box[3], tsize=11.5)
    xfit(ax, box[0], box[2], xp[0], xp[1], xp[2], xp[3])
    ax.set_xticks(xticks); ax.set_xticklabels([str(v) for v in xticks], fontsize=11.5, color=TXT)
    T((box[0]+box[2])/2, titley, title, size=15.5, ha='center')
    T((box[0]+box[2])/2, xlaby, ICOS, size=11, ha='center')
    YL(ylx, yly, yl, size=11.5)
    for y, s, c in zip(anny, ann, [BLUE, BLUE, ORANGE, ORANGE]):
        T(annx, y, s, size=11, color=c)

def kbars(box, cs, hc, pd_, ticks, py, labs, ttlx, ttly, ylx, yly, hx, hy, ax_, ay, lsize=10.5):
    ax = axpx(*box)
    cats = ['ASC', 'ABC']
    sns.barplot(x=cats+cats, y=list(hc)+list(pd_), hue=['Healthy']*2+['aPD1']*2, palette={'Healthy': BLUE, 'aPD1': ORANGE},
                order=cats, width=.9, gap=0, saturation=1, edgecolor='#333333', linewidth=1.1, legend=False, ax=ax)
    frame(ax, ticks, py[0], .6, py[1], -.2, box[1], box[3], tsize=10.5)
    ax.set_yticklabels([('%.1f' % v).replace('-', '\u2212') for v in ticks])
    two_x(ax, box[0], box[2], cs[0], cs[1])
    ax.set_xticks([0, 1]); ax.set_xticklabels(labs, fontsize=lsize, color=TXT, linespacing=1.05)
    ax.set_xlabel(''); ax.set_ylabel('')
    T(ttlx, ttly, 'cTfh correlation', size=13.2, ha='center')
    YL(ylx, yly, 'Kendall t', size=13)
    T(hx, hy, 'Healthy', size=11, ha='right', color=BLUE)
    T(ax_, ay, 'aPD1', size=11, color=ORANGE)

T(286, 1503, 'Baseline', size=22, ha='center')
qr((53, 1540, 267, 1755), (63, 0, 218.6, 6), (1550, 1745), [0, 2, 4, 6], (Q1_hc_x, Q1_hc_y), (Q1_pd_x, Q1_pd_y),
   ((Q1_fit_hc_x, Q1_fit_hc_y), (Q1_fit_pd_x, Q1_fit_pd_y)), 'ASC', 1525, 'ASC (% CD19)', 31.5, 1647, 64.5, [1555, 1577, 1594, 1616],
   ['HC Kendall t = 0.14', 'P = 0.5', 'aPD1 Kendall t = 0.12', 'P = 0.56'], 1784)
qr((318, 1540, 532, 1755), (327.7, 0, 483.3, 6), (1550, 1745), [0, 2, 4, 6], (Q2_hc_x, Q2_hc_y), (Q2_pd_x, Q2_pd_y),
   ((Q2_fit_hc_x, Q2_fit_hc_y), (Q2_fit_pd_x, Q2_fit_pd_y)), 'ABC', 1525, 'ABC (% CD19)', 297, 1647, 329, [1555, 1577, 1594, 1616],
   ['HC Kendall t = 0.18', 'P = 0.38', 'aPD1 Kendall t = \u22120.02', 'P = 0.96'], 1784)
kbars((598.6, 1539, 729, 1762), (633.5, 693.7), Q3_hc, Q3_pd, [-.2, -.1, 0, .1, .2, .3, .4, .5, .6], (1549, 1752),
      ['ASC\n(%CD19)', 'ABC\n(%CD19)'], 663, 1524, 553.5, 1650, 725, 1550, 674, 1564, lsize=10)

T(1062, 1500, 'One week after vaccine', size=21.6, ha='center')
qr((829, 1548, 1034.5, 1755), (838, 0, 988.4, 9), (1558, 1746), [0, 3, 6, 9], (R1_hc_x, R1_hc_y), (R1_pd_x, R1_pd_y),
   ((R1_fit_hc_x, R1_fit_hc_y), (R1_fit_pd_x, R1_fit_pd_y)), 'ASC', 1531, 'ASC (% CD19)', 809, 1652, 840, [1563, 1584, 1601, 1622],
   ['HC Kendall t = 0.19', 'P = 0.39', 'aPD1 Kendall t = 0.3', 'P = 0.12'], 1785)
qr((1095.6, 1548, 1300.6, 1754), (1104.3, 0, 1254.6, 9), (1558, 1745), [0, 3, 6, 9], (R2_hc_x, R2_hc_y), (R2_pd_x, R2_pd_y),
   ((R2_fit_hc_x, R2_fit_hc_y), (R2_fit_pd_x, R2_fit_pd_y)), 'ABC', 1531, 'ABC (% CD19)', 1074, 1651, 1106, [1562, 1584, 1600, 1621],
   ['HC Kendall t = 0.05', 'P = 0.83', 'aPD1 Kendall t = 0', 'P = 1'], 1785)
kbars((1372, 1539, 1505.6, 1767), (1408, 1469), R3_hc, R3_pd, [-.2, -.1, 0, .1, .2, .3, .4, .5, .6], (1550, 1757),
      ['ASC\n(% CD19)', 'ABC\n(% CD19)'], 1438, 1525, 1327, 1652, 1502, 1557, 1449, 1571, lsize=9.5)

fig.savefig('out.png', dpi=100, facecolor='white')
